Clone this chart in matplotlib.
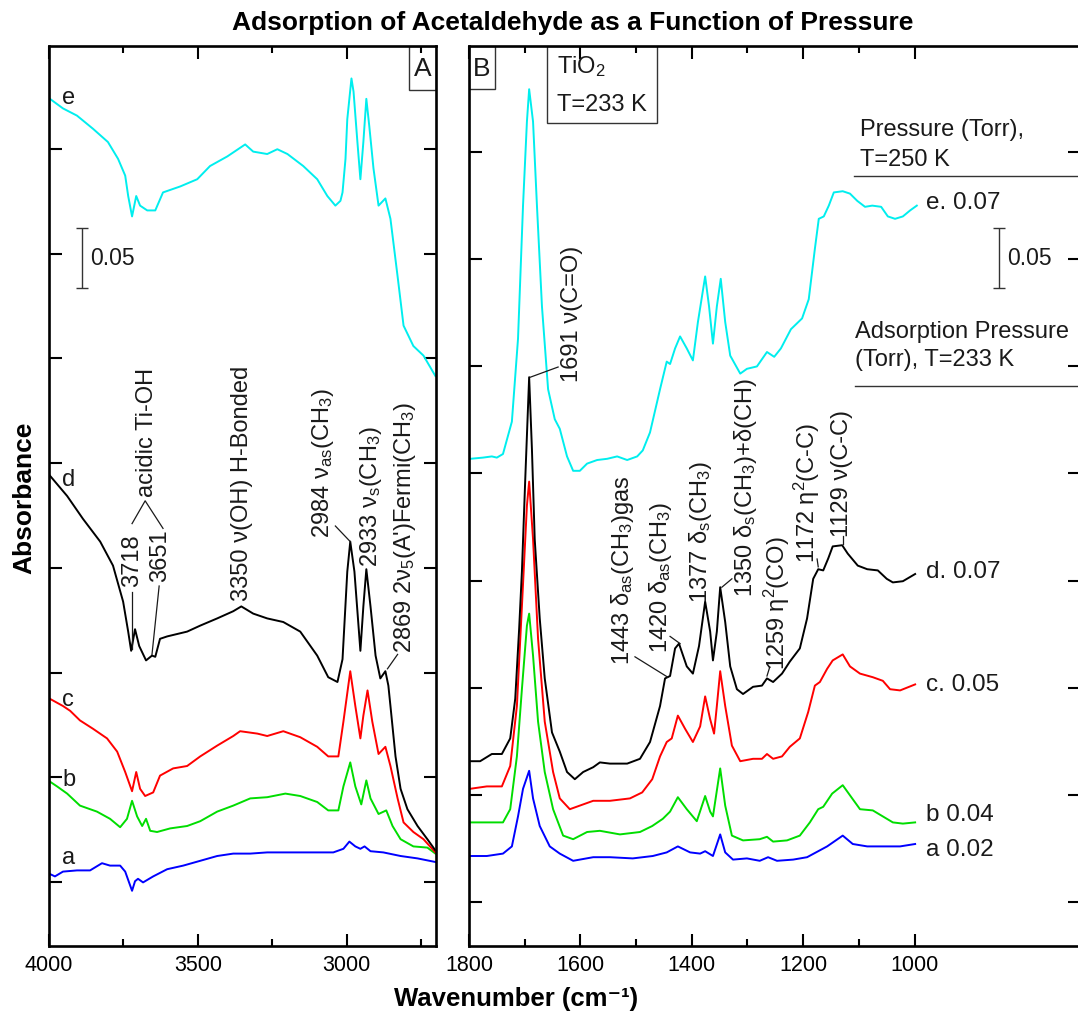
import numpy as np
import matplotlib
matplotlib.use("Agg")
import matplotlib.pyplot as plt
from matplotlib.patches import Rectangle

plt.rcParams["font.family"] = ["Liberation Sans", "DejaVu Sans"]
plt.rcParams["mathtext.default"] = "regular"

# ---- panel A: 4000-2700 cm-1, spectra offset for clarity ----
wn_a_e = [3997, 3953, 3906, 3852, 3802, 3768, 3744, 3734, 3721, 3707, 3694, 3670, 3643, 3617, 3559,
          3502, 3459, 3401, 3341, 3314, 3267, 3233, 3199, 3146, 3099, 3065, 3038, 3021, 3014, 3004,
          2998, 2984, 2977, 2964, 2954, 2944, 2934, 2924, 2910, 2893, 2870, 2853, 2829, 2809, 2776,
          2742, 2702]
abs_a_e = [0.706, 0.698, 0.692, 0.681, 0.670, 0.656, 0.642, 0.625, 0.608, 0.625, 0.617, 0.613, 0.613, 0.628, 0.633,
           0.639, 0.650, 0.658, 0.668, 0.662, 0.660, 0.664, 0.660, 0.650, 0.639, 0.625, 0.617, 0.621, 0.628, 0.656,
           0.689, 0.723, 0.712, 0.670, 0.639, 0.670, 0.706, 0.683, 0.648, 0.617, 0.623, 0.606, 0.558, 0.517, 0.500,
           0.492, 0.475]

wn_a_d = [3997, 3939, 3886, 3828, 3785, 3751, 3734, 3724, 3711, 3697, 3674, 3654, 3643, 3627, 3603,
          3536, 3492, 3435, 3381, 3354, 3314, 3267, 3213, 3156, 3099, 3062, 3031, 3014, 2998, 2988,
          2974, 2954, 2944, 2934, 2920, 2903, 2887, 2870, 2860, 2853, 2836, 2819, 2796, 2762, 2729,
          2703]
abs_a_d = [0.392, 0.375, 0.356, 0.337, 0.317, 0.287, 0.262, 0.246, 0.264, 0.250, 0.238, 0.242, 0.241, 0.256, 0.258,
           0.262, 0.267, 0.273, 0.279, 0.283, 0.277, 0.273, 0.270, 0.262, 0.242, 0.224, 0.220, 0.239, 0.312, 0.337,
           0.312, 0.246, 0.283, 0.314, 0.283, 0.242, 0.223, 0.229, 0.217, 0.200, 0.158, 0.131, 0.114, 0.100, 0.089,
           0.080]

wn_a_c = [3997, 3953, 3929, 3896, 3852, 3805, 3771, 3744, 3721, 3707, 3694, 3677, 3650, 3627, 3583,
          3536, 3492, 3435, 3381, 3358, 3300, 3267, 3213, 3156, 3099, 3062, 3028, 3011, 2988, 2971,
          2954, 2944, 2930, 2914, 2893, 2870, 2853, 2829, 2809, 2776, 2742, 2702]
abs_a_c = [0.206, 0.200, 0.196, 0.188, 0.181, 0.173, 0.162, 0.145, 0.129, 0.145, 0.131, 0.125, 0.128, 0.142, 0.148,
           0.150, 0.158, 0.167, 0.175, 0.179, 0.177, 0.175, 0.179, 0.174, 0.166, 0.158, 0.158, 0.187, 0.229, 0.200,
           0.173, 0.192, 0.213, 0.187, 0.160, 0.166, 0.150, 0.123, 0.103, 0.095, 0.089, 0.078]

wn_a_b = [3997, 3973, 3939, 3896, 3839, 3795, 3761, 3738, 3721, 3704, 3687, 3674, 3660, 3637, 3593,
          3536, 3492, 3435, 3381, 3324, 3267, 3206, 3156, 3099, 3062, 3028, 3011, 2988, 2971, 2951,
          2934, 2920, 2893, 2867, 2846, 2819, 2776, 2729, 2702]
abs_a_b = [0.137, 0.133, 0.127, 0.117, 0.112, 0.106, 0.099, 0.106, 0.121, 0.108, 0.100, 0.106, 0.096, 0.095, 0.098,
           0.100, 0.104, 0.112, 0.117, 0.123, 0.124, 0.127, 0.125, 0.120, 0.113, 0.113, 0.133, 0.153, 0.133, 0.118,
           0.138, 0.123, 0.110, 0.113, 0.100, 0.089, 0.083, 0.082, 0.077]

wn_a_a = [3997, 3980, 3953, 3906, 3862, 3822, 3795, 3761, 3744, 3721, 3711, 3701, 3684, 3650, 3603,
          3549, 3492, 3435, 3381, 3324, 3267, 3213, 3156, 3099, 3045, 3011, 2991, 2971, 2954, 2940,
          2920, 2877, 2819, 2762, 2702]
abs_a_a = [0.060, 0.058, 0.062, 0.063, 0.063, 0.069, 0.067, 0.067, 0.062, 0.046, 0.054, 0.056, 0.053, 0.058, 0.064,
           0.067, 0.071, 0.075, 0.077, 0.077, 0.078, 0.078, 0.078, 0.078, 0.078, 0.081, 0.087, 0.083, 0.081, 0.083,
           0.079, 0.078, 0.075, 0.073, 0.070]

# ---- panel B: 1800-1000 cm-1 ----
wn_b_e = [1798, 1775, 1759, 1750, 1739, 1723, 1712, 1703, 1696, 1692,
          1685, 1678, 1669, 1658, 1646, 1637, 1624, 1613, 1601, 1588,
          1570, 1552, 1534, 1516, 1498, 1488, 1475, 1457, 1445, 1439,
          1430, 1421, 1409, 1398, 1389, 1376, 1369, 1362, 1355, 1348,
          1340, 1331, 1313, 1301, 1283, 1265, 1252, 1240, 1222, 1202,
          1190, 1179, 1172, 1163, 1154, 1145, 1129, 1116, 1103, 1089,
          1076, 1060, 1048, 1035, 1021, 1008, 996]
abs_b_e = [0.406, 0.407, 0.408, 0.407, 0.410, 0.437, 0.506, 0.617, 0.687, 0.714,
           0.687, 0.617, 0.533, 0.464, 0.439, 0.431, 0.408, 0.396, 0.396, 0.402,
           0.405, 0.406, 0.408, 0.405, 0.408, 0.413, 0.428, 0.464, 0.487, 0.485,
           0.498, 0.508, 0.498, 0.488, 0.520, 0.558, 0.533, 0.502, 0.533, 0.556,
           0.520, 0.492, 0.477, 0.481, 0.483, 0.495, 0.491, 0.498, 0.514, 0.523,
           0.539, 0.581, 0.606, 0.608, 0.617, 0.628, 0.629, 0.627, 0.621, 0.616,
           0.617, 0.616, 0.608, 0.606, 0.608, 0.613, 0.617]

wn_b_d = [1798, 1780, 1759, 1741, 1726, 1717, 1710, 1705, 1699, 1692,
          1687, 1682, 1673, 1664, 1651, 1637, 1624, 1610, 1595, 1577,
          1565, 1547, 1516, 1493, 1475, 1457, 1448, 1439, 1430, 1423,
          1409, 1398, 1387, 1376, 1367, 1362, 1355, 1349, 1340, 1331,
          1319, 1308, 1290, 1274, 1265, 1254, 1238, 1224, 1206, 1193,
          1182, 1173, 1164, 1155, 1147, 1130, 1120, 1102, 1085, 1066,
          1050, 1039, 1021, 999]
abs_b_d = [0.154, 0.154, 0.160, 0.160, 0.173, 0.206, 0.264, 0.312, 0.389, 0.474,
           0.414, 0.339, 0.273, 0.223, 0.178, 0.162, 0.145, 0.139, 0.145, 0.149,
           0.153, 0.152, 0.152, 0.156, 0.170, 0.200, 0.223, 0.225, 0.248, 0.252,
           0.233, 0.227, 0.250, 0.287, 0.262, 0.238, 0.262, 0.299, 0.270, 0.233,
           0.214, 0.210, 0.216, 0.217, 0.223, 0.220, 0.227, 0.237, 0.248, 0.273,
           0.306, 0.314, 0.313, 0.323, 0.333, 0.334, 0.327, 0.317, 0.314, 0.313,
           0.306, 0.303, 0.304, 0.310]

wn_b_c = [1798, 1768, 1741, 1726, 1714, 1705, 1696, 1692, 1685, 1676,
          1664, 1649, 1637, 1619, 1601, 1577, 1547, 1511, 1489, 1471,
          1457, 1445, 1436, 1425, 1412, 1398, 1385, 1376, 1367, 1360,
          1355, 1349, 1340, 1328, 1313, 1290, 1274, 1265, 1254, 1238,
          1224, 1206, 1191, 1179, 1170, 1157, 1147, 1129, 1116, 1098,
          1075, 1057, 1044, 1026, 999]
abs_b_c = [0.131, 0.133, 0.133, 0.150, 0.200, 0.283, 0.367, 0.387, 0.339, 0.256,
           0.187, 0.145, 0.123, 0.114, 0.117, 0.121, 0.121, 0.123, 0.128, 0.139,
           0.158, 0.170, 0.173, 0.192, 0.181, 0.170, 0.183, 0.208, 0.189, 0.177,
           0.200, 0.229, 0.200, 0.167, 0.154, 0.156, 0.156, 0.160, 0.156, 0.158,
           0.166, 0.173, 0.195, 0.217, 0.220, 0.231, 0.238, 0.243, 0.233, 0.227,
           0.224, 0.221, 0.214, 0.213, 0.218]

wn_b_b = [1798, 1768, 1739, 1726, 1714, 1705, 1696, 1692, 1685, 1676,
          1664, 1649, 1631, 1613, 1588, 1565, 1529, 1493, 1471, 1452,
          1439, 1425, 1409, 1391, 1376, 1367, 1362, 1349, 1340, 1328,
          1308, 1278, 1265, 1254, 1229, 1206, 1188, 1173, 1164, 1148,
          1129, 1112, 1098, 1075, 1057, 1039, 1021, 999]
abs_b_b = [0.103, 0.103, 0.103, 0.114, 0.158, 0.214, 0.267, 0.277, 0.242, 0.187,
           0.145, 0.114, 0.092, 0.089, 0.095, 0.096, 0.093, 0.095, 0.100, 0.106,
           0.112, 0.124, 0.114, 0.104, 0.125, 0.112, 0.108, 0.148, 0.117, 0.092,
           0.088, 0.089, 0.091, 0.087, 0.088, 0.092, 0.103, 0.114, 0.116, 0.127,
           0.134, 0.123, 0.114, 0.113, 0.108, 0.103, 0.102, 0.103]

wn_b_a = [1798, 1768, 1739, 1723, 1712, 1703, 1692, 1685, 1673, 1655,
          1637, 1613, 1577, 1547, 1506, 1470, 1445, 1425, 1403, 1385,
          1376, 1362, 1349, 1340, 1326, 1301, 1278, 1263, 1247, 1218,
          1193, 1173, 1157, 1129, 1111, 1085, 1057, 1026, 999]
abs_b_a = [0.075, 0.075, 0.077, 0.083, 0.108, 0.131, 0.146, 0.123, 0.100, 0.083,
           0.077, 0.071, 0.074, 0.074, 0.073, 0.075, 0.078, 0.083, 0.078, 0.077,
           0.079, 0.075, 0.093, 0.078, 0.072, 0.073, 0.071, 0.074, 0.071, 0.072,
           0.074, 0.079, 0.083, 0.092, 0.085, 0.083, 0.083, 0.083, 0.085]

curve_names = ["a", "b", "c", "d", "e"]
pressure_labels = ["a 0.02", "b 0.04", "c. 0.05", "d. 0.07", "e. 0.07"]
colors = {"e": "#00EEEE", "d": "#000000", "c": "#FF0000", "b": "#00DD00", "a": "#0000FF"}

TXT = "#1a1a1a"

fig = plt.figure(figsize=(10.78, 10.12), dpi=100)
ax_a = fig.add_axes([0.04545, 0.06423, 0.3590, 0.8893])
ax_b = fig.add_axes([0.43506, 0.06423, 0.56679, 0.8893])


def style(ax, xlim, major, minor, yticks):
    ax.set_xlim(*xlim)
    ax.set_ylim(0, 0.75)
    ax.set_xticks(major)
    ax.set_xticks(minor, minor=True)
    ax.set_yticks(yticks)
    ax.set_yticklabels([])
    ax.tick_params(which="both", direction="in", top=True, right=True,
                   width=1.5, labelsize=15.5, pad=6, colors="black")
    ax.tick_params(which="major", length=9)
    ax.tick_params(which="minor", length=5)
    for sp in ax.spines.values():
        sp.set_linewidth(1.9)


style(ax_a, (4000, 2700), [4000, 3500, 3000], [3750, 3250, 2750],
      np.linspace(0.0533, 0.6642, 8))
style(ax_b, (1800, 703), [1800, 1600, 1400, 1200, 1000], [1700, 1500, 1300, 1100],
      np.linspace(0.0367, 0.6617, 8))

data_a = {"e": (wn_a_e, abs_a_e), "d": (wn_a_d, abs_a_d), "c": (wn_a_c, abs_a_c),
          "b": (wn_a_b, abs_a_b), "a": (wn_a_a, abs_a_a)}
data_b = {"e": (wn_b_e, abs_b_e), "d": (wn_b_d, abs_b_d), "c": (wn_b_c, abs_b_c),
          "b": (wn_b_b, abs_b_b), "a": (wn_b_a, abs_b_a)}

for k in curve_names:
    ax_a.plot(*data_a[k], color=colors[k], lw=1.4)
    ax_b.plot(*data_b[k], color=colors[k], lw=1.4)

# curve letters in panel A, pressure labels in panel B
for k, y in zip(curve_names, [0.074, 0.139, 0.206, 0.389, 0.7075]):
    ax_a.text(3956, y, k, fontsize=17, color=TXT, ha="left", va="center")
for lab, y in zip(pressure_labels, [0.081, 0.110, 0.218, 0.3125, 0.620]):
    ax_b.text(980, y, lab, fontsize=17.5, color=TXT, ha="left", va="center")

ann = dict(rotation=90, ha="center", va="bottom", fontsize=17, color=TXT)


def leader(ax, xs, ys):
    ax.plot(xs, ys, color=TXT, lw=0.9)


# panel A assignments
ax_a.text(3721, 0.300, "3718", **ann)
leader(ax_a, [3721, 3721], [0.295, 0.2475])
ax_a.text(3627, 0.304, "3651", **ann)
leader(ax_a, [3630, 3654], [0.300, 0.243])
leader(ax_a, [3721, 3677, 3617], [0.352, 0.371, 0.348])
ax_a.text(3670, 0.375, "acidic Ti-OH", **ann)
ax_a.text(3351, 0.288, "3350 ν(OH) H-Bonded", **ann)
ax_a.text(3078, 0.341, "2984 ν$_{as}$(CH$_3$)", **ann)
leader(ax_a, [3038, 2988], [0.350, 0.337])
ax_a.text(2920, 0.317, "2933 ν$_s$(CH$_3$)", **ann)
ax_a.text(2803, 0.245, "2869 2ν$_5$(A')Fermi(CH$_3$)", **ann)
leader(ax_a, [2829, 2863], [0.243, 0.231])

# panel B assignments
ax_b.text(1615, 0.471, "1691 ν(C=O)", **ann)
leader(ax_b, [1640, 1690], [0.4825, 0.474])
ax_b.text(1524, 0.235, "1443 δ$_{as}$(CH$_3$)gas", **ann)
leader(ax_b, [1502, 1443], [0.241, 0.224])
ax_b.text(1457, 0.245, "1420 δ$_{as}$(CH$_3$)", **ann)
leader(ax_b, [1439, 1421], [0.258, 0.252])
ax_b.text(1385, 0.287, "1377 δ$_s$(CH$_3$)", **ann)
ax_b.text(1304, 0.292, "1350 δ$_s$(CH$_3$)+δ(CH)", **ann)
leader(ax_b, [1328, 1346], [0.306, 0.299])
ax_b.text(1247, 0.231, "1259 η$^2$(CO)", **ann)
leader(ax_b, [1260, 1265], [0.2325, 0.225])
ax_b.text(1193, 0.320, "1172 η$^2$(C-C)", **ann)
leader(ax_b, [1175, 1173], [0.3225, 0.316])
ax_b.text(1130, 0.342, "1129 ν(C-C)", **ann)
leader(ax_b, [1129, 1129], [0.342, 0.335])

# 0.05 absorbance scale bars
for ax, x, xt in [(ax_a, 3889, 3862), (ax_b, 848, 834)]:
    ax.errorbar([x], [0.5735], yerr=[0.025], fmt="none", ecolor="#333333",
                elinewidth=1.0, capsize=4.5, capthick=1.0)
    ax.text(xt, 0.5735, "0.05", fontsize=16.5, color=TXT, ha="left", va="center")

# legend-like headers on the right of panel B
ax_b.text(1098, 0.681, "Pressure (Torr),", fontsize=17, color=TXT, ha="left", va="center")
ax_b.text(1098, 0.656, "T=250 K", fontsize=17, color=TXT, ha="left", va="center")
ax_b.plot([1109, 703], [0.642, 0.642], color="#333333", lw=1.0)
ax_b.text(1107, 0.5125, "Adsorption Pressure", fontsize=17, color=TXT, ha="left", va="center")
ax_b.text(1107, 0.489, "(Torr), T=233 K", fontsize=17, color=TXT, ha="left", va="center")
ax_b.plot([1107, 703], [0.4667, 0.4667], color="#333333", lw=1.0)

# boxed panel letters and sample box
ax_a.add_patch(Rectangle((0.930, 0.951), 0.070, 0.049, transform=ax_a.transAxes,
                         fill=False, ec="#333333", lw=1.0))
ax_a.text(0.965, 0.9755, "A", transform=ax_a.transAxes, fontsize=19, color=TXT,
          ha="center", va="center")
ax_b.add_patch(Rectangle((0.0, 0.952), 0.0426, 0.048, transform=ax_b.transAxes,
                         fill=False, ec="#333333", lw=1.0))
ax_b.text(0.0213, 0.976, "B", transform=ax_b.transAxes, fontsize=19, color=TXT,
          ha="center", va="center")
ax_b.add_patch(Rectangle((0.1277, 0.9144), 0.18, 0.0856, transform=ax_b.transAxes,
                         fill=False, ec="#333333", lw=1.0))
ax_b.text(0.144, 0.978, "TiO$_2$", transform=ax_b.transAxes, fontsize=17, color=TXT,
          ha="left", va="center")
ax_b.text(0.144, 0.936, "T=233 K", transform=ax_b.transAxes, fontsize=17, color=TXT,
          ha="left", va="center")

fig.text(0.5315, 0.9773, "Adsorption of Acetaldehyde as a Function of Pressure",
         fontsize=19, fontweight="bold", ha="center", va="center")
fig.text(0.4787, 0.0055, "Wavenumber (cm\u207b\u00b9)", fontsize=18.5, fontweight="bold",
         ha="center", va="baseline")
fig.text(0.0223, 0.508, "Absorbance", fontsize=19, fontweight="bold", rotation=90,
         ha="center", va="center")

fig.savefig("out.png", dpi=100)
